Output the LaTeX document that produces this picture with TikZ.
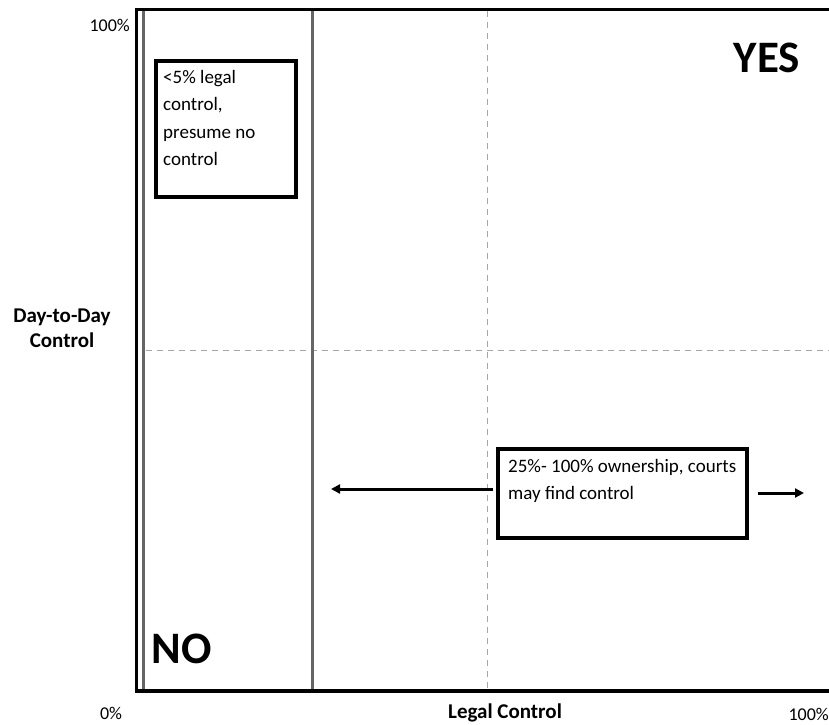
\documentclass[tikz,border=0pt]{standalone}
\usepackage{fontspec}
\setmainfont{Carlito}
\usetikzlibrary{arrows.meta}
\begin{document}
\begin{tikzpicture}[x=1pt,y=-1pt,
  border/.style={line width=3.5pt,black},
  grayline/.style={line width=3pt,gray!80!black},
  guide/.style={line width=1pt,black!35,dash pattern=on 6pt off 5pt},
  boxshape/.style={draw=black,line width=3.2pt,inner sep=0pt},
  boxtext/.style={anchor=north west,align=left,inner sep=0pt,font=\fontsize{19}{27.5}\selectfont},
  axislabel/.style={font=\fontsize{21}{25}\selectfont\bfseries,align=center,inner sep=0pt},
  ticklabel/.style={font=\fontsize{18}{20}\selectfont,inner sep=0pt},
  bigword/.style={font=\fontsize{45}{50}\selectfont\bfseries,inner sep=0pt},
  arrowline/.style={line width=3pt,-{Triangle[length=9pt,width=9pt]}}
]
\useasboundingbox (0,0) rectangle (829,724);
\fill[white] (0,0) rectangle (829,724);

% guide lines
\coordinate (vtop) at (487,11);
\coordinate (vbot) at (487,690);
\coordinate (hl) at (146,350);
\coordinate (hr) at (829,350);
\draw[guide] (vtop) -- (vbot);
\draw[guide] (hl) -- (hr);

% gray vertical lines
\coordinate (g1t) at (143,11);
\coordinate (g1b) at (143,693);
\coordinate (g2t) at (312,11);
\coordinate (g2b) at (312,693);
\draw[grayline] (g1t) -- (g1b);
\draw[grayline] (g2t) -- (g2b);

% frame
\coordinate (tr) at (829,9.5);
\coordinate (tl) at (136.5,9.5);
\coordinate (bl) at (136.5,691);
\coordinate (br) at (829,691);
\draw[border,line cap=rect] (tr) -- (tl) -- (bl) -- (br);

% box 1
\node[boxshape,minimum width=140pt,minimum height=136pt] (box1) at (226,129) {};
\node[boxtext] (t1) at (163,70) {<5\% legal\\control,\\presume no\\control};

% box 2
\node[boxshape,minimum width=249pt,minimum height=89pt] (box2) at (622.5,493.5) {};
\node[boxtext] (t2) at (508,459) {25\%- 100\% ownership, courts\\may find control};

% arrows
\coordinate (la) at (493,489);
\coordinate (lb) at (331,489);
\coordinate (ra) at (758,493);
\coordinate (rb) at (804,493);
\draw[arrowline] (la) -- (lb);
\draw[arrowline] (ra) -- (rb);

% labels
\node[bigword] (yes) at (767,58) {YES};
\node[bigword] (no) at (182,649) {NO};
\node[ticklabel,anchor=east] (top100) at (130,25) {100\%};
\node[axislabel] (dd) at (62,328) {Day-to-Day\\Control};
\node[ticklabel] (zero) at (111,713) {0\%};
\node[axislabel] (lc) at (505,713) {Legal Control};
\node[ticklabel,anchor=east] (r100) at (829,714) {100\%};
\end{tikzpicture}
\end{document}
